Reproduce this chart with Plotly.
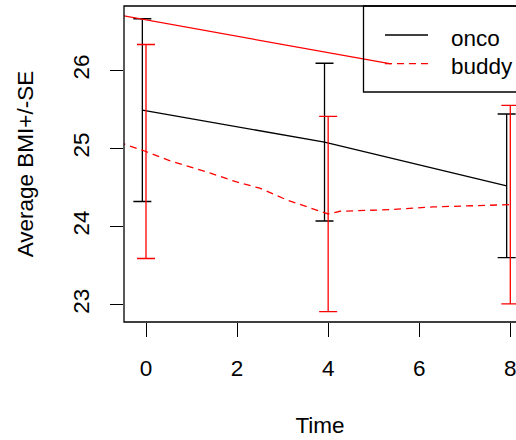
import plotly.graph_objects as go

# Measurement times and group summaries (mean BMI and standard error)
times = [0, 4, 8]
onco_mean = [25.49, 25.08, 24.52]
onco_se = [1.17, 1.01, 0.92]
buddy_mean = [24.96, 24.16, 24.28]
buddy_se = [1.37, 1.25, 1.27]
onco_shift = -0.08  # small horizontal dodge for the onco bars

# Buddy trend line (dashed), traced through the group means
buddy_trend_x = [-0.6, 0, 0.53, 1.33, 1.99, 2.5, 3.09, 3.53, 4.0, 4.26, 5.36, 6.3, 7.55, 8.0]
buddy_trend_y = [25.08, 24.96, 24.84, 24.70, 24.57, 24.49, 24.34, 24.25, 24.16, 24.195, 24.216, 24.25, 24.27, 24.28]

# Straight red segment running into the legend key
red_seg_x = [-0.6, 5.38]
red_seg_y = [26.708, 26.081]

x_ticks = [0, 2, 4, 6, 8]
y_ticks = [23, 24, 25, 26]

FONT = "Liberation Sans, Arial, sans-serif"
FS = 22.5
RED = "#FF0000"
LW = 1.3

W, H = 516, 440
ML, MR, MT, MB = 124, 0, 6, 118
PW, PH = W - ML - MR, H - MT - MB

def px_x(p):
    return (p - ML) / PW

def px_y(p):
    return (H - MB - p) / PH

fig = go.Figure()

fig.add_trace(go.Scatter(
    x=[t + onco_shift for t in times], y=onco_mean, mode="lines",
    line=dict(color="black", width=LW),
    error_y=dict(type="data", array=onco_se, visible=True, color="black", thickness=LW, width=9),
    name="onco", showlegend=False,
))
fig.add_trace(go.Scatter(
    x=times, y=buddy_mean, mode="none",
    error_y=dict(type="data", array=buddy_se, visible=True, color=RED, thickness=LW, width=9),
    name="buddy", showlegend=False,
))
fig.add_trace(go.Scatter(
    x=buddy_trend_x, y=buddy_trend_y, mode="lines",
    line=dict(color=RED, width=LW, dash="7px,5px"),
    showlegend=False, hoverinfo="skip",
))
fig.add_trace(go.Scatter(
    x=red_seg_x, y=red_seg_y, mode="lines",
    line=dict(color=RED, width=LW),
    showlegend=False, hoverinfo="skip",
))

shapes = [
    # plot frame (right side runs past the page edge)
    dict(type="rect", xref="paper", yref="paper", x0=0, x1=1.2, y0=0, y1=1,
         line=dict(color="black", width=LW)),
    # legend frame
    dict(type="rect", xref="paper", yref="paper", x0=px_x(363.5), x1=1.2, y0=px_y(92), y1=1,
         line=dict(color="black", width=LW)),
    # legend keys
    dict(type="line", xref="paper", yref="paper", x0=px_x(385), x1=px_x(428),
         y0=px_y(35), y1=px_y(35), line=dict(color="black", width=LW)),
    dict(type="line", xref="paper", yref="paper", x0=px_x(385), x1=px_x(428),
         y0=px_y(63.7), y1=px_y(63.7), line=dict(color=RED, width=LW, dash="7px,5px")),
]

annotations = [
    dict(text="onco", xref="paper", yref="paper", x=px_x(449), y=px_y(38),
         xanchor="left", yanchor="middle", showarrow=False,
         font=dict(family=FONT, size=FS, color="black")),
    dict(text="buddy", xref="paper", yref="paper", x=px_x(449), y=px_y(66),
         xanchor="left", yanchor="middle", showarrow=False,
         font=dict(family=FONT, size=FS, color="black")),
]

fig.update_layout(
    width=W, height=H,
    margin=dict(l=ML, r=MR, t=MT, b=MB, pad=0),
    paper_bgcolor="white", plot_bgcolor="white",
    font=dict(family=FONT, size=FS, color="black"),
    shapes=shapes, annotations=annotations,
    showlegend=False,
    xaxis=dict(
        range=[-0.483, -0.483 + PW / 45.54],
        tickmode="array", tickvals=x_ticks, ticktext=[str(v) for v in x_ticks],
        ticks="outside", ticklen=14, tickwidth=LW, tickcolor="black",
        showgrid=False, zeroline=False, showline=False,
        ticklabelstandoff=12, ticklabeloverflow="allow",
        title=dict(text="Time", standoff=37, font=dict(family=FONT, size=FS)),
    ),
    yaxis=dict(
        range=[22.777, 22.777 + PH / 78.1],
        tickmode="array", tickvals=y_ticks, ticktext=[str(v) for v in y_ticks],
        tickangle=-90,
        ticks="outside", ticklen=13, tickwidth=LW, tickcolor="black",
        showgrid=False, zeroline=False, showline=False,
        ticklabelstandoff=12, ticklabeloverflow="allow",
        title=dict(text="Average BMI+/-SE", standoff=29, font=dict(family=FONT, size=FS)),
    ),
)

fig.write_html("out.html")
